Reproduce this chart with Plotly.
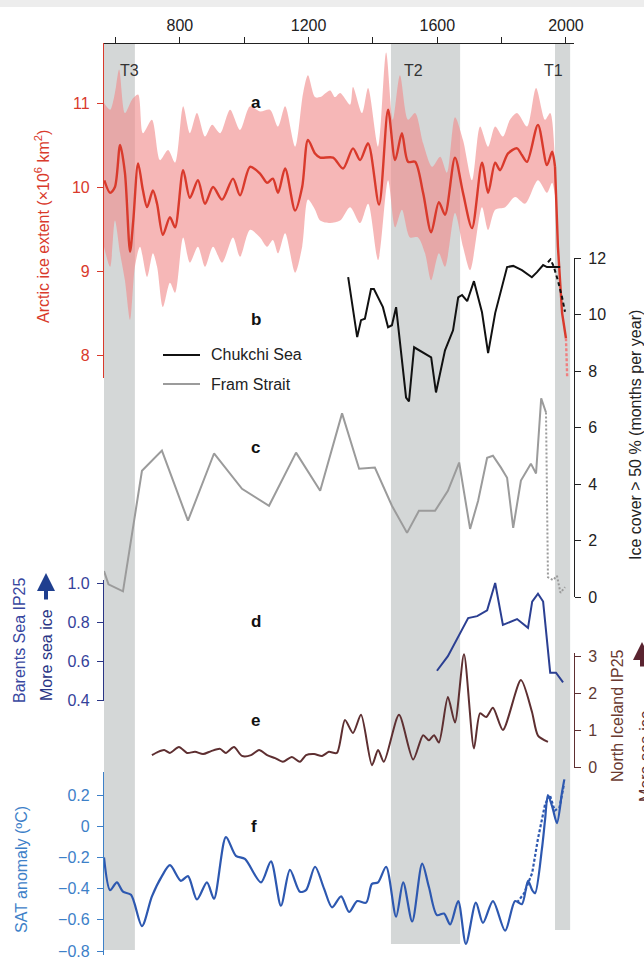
import plotly.graph_objects as go

# ---------------- data ----------------
# a: Arctic sea-ice extent reconstruction (x10^6 km^2)
a_years = [565, 583, 598, 614, 629, 645, 655, 670, 685, 698, 716, 729, 747, 769, 785, 810, 831, 856, 878, 903,
           931, 965, 987, 1018, 1049, 1071, 1089, 1105, 1127, 1158, 1180, 1198, 1220, 1236, 1276, 1307, 1338, 1360,
           1385, 1419, 1447, 1469, 1490, 1509, 1531, 1556, 1581, 1605, 1624, 1655, 1680, 1708, 1739, 1758, 1780,
           1795, 1820, 1848, 1863, 1879, 1913, 1941, 1957, 1966]
a_ice = [10.08, 9.93, 10.0, 10.5, 10.17, 9.23, 9.6, 10.28, 9.96, 9.76, 9.96, 9.8, 9.43, 9.64, 9.52, 10.2, 9.87,
         10.08, 9.8, 10.0, 9.85, 10.1, 9.9, 10.24, 10.16, 10.05, 10.1, 9.93, 10.22, 9.72, 10.0, 10.56, 10.4, 10.35,
         10.35, 10.22, 10.46, 10.32, 10.52, 9.79, 10.92, 10.32, 10.64, 10.3, 10.3, 9.93, 9.46, 9.82, 9.67, 10.35,
         9.93, 9.51, 10.29, 9.93, 10.29, 10.2, 10.4, 10.46, 10.38, 10.3, 10.74, 10.26, 10.42, 10.24]
a_drop_years = [1966, 1975, 1988, 2000]
a_drop_ice = [10.24, 9.29, 8.5, 8.2]
a_proj_years = [2000, 2004]
a_proj_ice = [8.2, 7.72]
a_up_years = [564, 583, 598, 611, 629, 651, 670, 685, 713, 738, 763, 785, 810, 831, 853, 878, 900, 925, 956, 987,
              1018, 1049, 1080, 1105, 1127, 1158, 1183, 1198, 1220, 1236, 1267, 1282, 1298, 1329, 1338, 1366, 1385,
              1416, 1441, 1462, 1484, 1509, 1531, 1556, 1584, 1609, 1630, 1655, 1680, 1708, 1733, 1758, 1780, 1804,
              1826, 1848, 1879, 1907, 1935, 1951, 1966]
a_up = [11.0, 10.92, 11.12, 11.4, 10.88, 11.04, 11.1, 10.64, 10.8, 10.32, 10.44, 10.29, 10.96, 10.64, 10.88, 10.6,
        10.74, 10.64, 10.92, 10.68, 10.96, 10.9, 10.92, 10.72, 10.96, 10.48, 11.12, 11.33, 11.07, 11.07, 11.15,
        11.07, 11.12, 10.98, 11.19, 10.88, 11.18, 10.48, 11.6, 10.8, 11.33, 10.8, 10.88, 10.52, 10.24, 10.36, 10.17,
        10.83, 10.56, 10.08, 10.72, 10.48, 10.72, 10.6, 10.8, 10.88, 10.72, 11.18, 10.8, 10.88, 10.32]
a_lo_years = [564, 583, 598, 614, 629, 645, 660, 676, 698, 716, 729, 747, 769, 785, 810, 831, 856, 878, 903, 931,
              965, 987, 1018, 1049, 1071, 1089, 1105, 1127, 1158, 1180, 1198, 1220, 1236, 1267, 1298, 1329, 1360,
              1385, 1416, 1447, 1469, 1490, 1515, 1540, 1562, 1581, 1605, 1624, 1655, 1680, 1702, 1739, 1758, 1780,
              1811, 1842, 1873, 1913, 1941, 1957, 1969]
a_lo = [9.29, 9.05, 9.6, 9.21, 8.89, 8.42, 9.05, 9.29, 8.93, 9.21, 9.05, 8.57, 8.86, 8.74, 9.4, 9.1, 9.29, 9.05,
        9.29, 9.1, 9.4, 9.17, 9.49, 9.4, 9.29, 9.37, 9.21, 9.45, 8.98, 9.29, 9.85, 9.73, 9.6, 9.57, 9.6, 9.76, 9.57,
        9.8, 9.13, 10.08, 9.52, 9.73, 9.4, 9.4, 9.21, 8.89, 9.21, 9.05, 9.69, 9.29, 9.01, 9.76, 9.49, 9.73, 9.76,
        9.88, 9.8, 10.08, 9.93, 10.05, 9.85]

# b: Chukchi Sea ice cover > 50 % (months per year)
chukchi_years = [1323, 1351, 1363, 1375, 1394, 1403, 1431, 1447, 1459, 1472, 1503, 1512, 1528, 1581, 1596, 1624,
                 1649, 1665, 1677, 1693, 1714, 1739, 1758, 1780, 1817, 1836, 1863, 1894, 1910, 1929, 1941, 1960, 1982]
chukchi_ice = [11.32, 9.2, 9.8, 9.85, 10.9, 10.9, 10.26, 9.55, 9.62, 10.26, 7.06, 6.92, 8.84, 8.48, 7.24, 8.73,
               9.44, 10.61, 10.69, 10.47, 11.18, 10.08, 8.63, 10.05, 11.68, 11.72, 11.57, 11.32, 11.5, 11.75, 11.68,
               11.68, 11.68]
chukchi_obs_years = [1944, 1952, 1962, 1975, 1988, 1997]
chukchi_obs = [11.85, 11.95, 11.7, 11.2, 10.6, 10.1]

# c: Fram Strait ice cover > 50 % (months per year)
fram_years = [564, 578, 623, 682, 744, 825, 906, 993, 1077, 1161, 1236, 1304, 1357, 1406, 1459, 1506, 1543, 1593,
              1633, 1668, 1702, 1727, 1755, 1773, 1798, 1817, 1836, 1860, 1891, 1907, 1923, 1938]
fram_ice = [0.92, 0.45, 0.2, 4.47, 5.18, 2.7, 5.08, 3.83, 3.23, 5.11, 3.76, 6.5, 4.54, 4.58, 3.23, 2.27, 3.05, 3.05,
            3.76, 4.76, 2.41, 3.41, 4.93, 5.0, 4.58, 4.22, 2.45, 4.12, 4.72, 4.37, 7.03, 6.53]
fram_obs_years = [1938, 1944, 1960, 1972, 1983, 1997]
fram_obs = [6.53, 0.7, 0.6, 0.75, 0.15, 0.35]

# d: Barents Sea IP25
barents_years = [1599, 1633, 1696, 1724, 1755, 1780, 1804, 1848, 1882, 1895, 1913, 1929, 1951, 1969, 1991]
barents_ip25 = [0.55, 0.625, 0.82, 0.83, 0.86, 1.0, 0.785, 0.815, 0.77, 0.905, 0.945, 0.905, 0.54, 0.54, 0.49]

# e: North Iceland IP25
iceland_years = [713, 732, 751, 769, 797, 822, 847, 872, 897, 925, 943, 968, 993, 1021, 1046, 1071, 1096, 1120,
                 1148, 1173, 1192, 1217, 1242, 1263, 1288, 1313, 1338, 1363, 1397, 1416, 1434, 1481, 1525, 1556,
                 1574, 1590, 1605, 1633, 1655, 1683, 1714, 1733, 1752, 1773, 1804, 1860, 1894, 1913, 1944]
iceland_ip25 = [0.32, 0.41, 0.46, 0.38, 0.54, 0.38, 0.41, 0.35, 0.43, 0.49, 0.38, 0.54, 0.3, 0.32, 0.46, 0.32,
                0.24, 0.14, 0.27, 0.14, 0.32, 0.35, 0.3, 0.41, 0.38, 1.27, 0.92, 1.41, 0.05, 0.46, 0.14, 1.41, 0.2,
                0.86, 0.72, 0.86, 0.66, 1.89, 1.2, 3.05, 0.5, 1.45, 1.35, 1.6, 1.0, 2.35, 1.5, 0.85, 0.68]

# f: Arctic SAT anomaly (degC)
sat_years = [564, 583, 604, 623, 648, 682, 713, 744, 769, 803, 825, 853, 884, 906, 943, 974, 1002, 1052, 1083,
             1114, 1142, 1173, 1192, 1220, 1248, 1273, 1301, 1326, 1351, 1379, 1397, 1416, 1441, 1472, 1494, 1522,
             1553, 1574, 1599, 1621, 1640, 1665, 1689, 1720, 1742, 1773, 1811, 1842, 1863, 1882, 1895, 1904, 1925,
             1935, 1944, 1958, 1972, 1988, 1995]
sat_anom = [-0.20, -0.41, -0.36, -0.42, -0.44, -0.64, -0.45, -0.32, -0.25, -0.35, -0.32, -0.47, -0.36, -0.465,
            -0.07, -0.19, -0.21, -0.36, -0.225, -0.51, -0.28, -0.42, -0.41, -0.26, -0.40, -0.52, -0.45, -0.55,
            -0.48, -0.49, -0.37, -0.36, -0.26, -0.58, -0.36, -0.61, -0.24, -0.39, -0.57, -0.56, -0.63, -0.48,
            -0.755, -0.49, -0.62, -0.48, -0.67, -0.48, -0.50, -0.35, -0.41, -0.43, -0.15, 0.04, 0.20, 0.12, 0.02,
            0.22, 0.30]
sat_obs_years = [1848, 1870, 1895, 1913, 1935, 1950, 1965, 1980, 1993]
sat_obs = [-0.49, -0.43, -0.30, -0.08, 0.14, 0.20, 0.10, 0.12, 0.26]

# periods (grey bands)
period_names = ["T3", "T2", "T1"]
period_start = [564, 1456, 1966]
period_end = [660, 1671, 2013]

year_ticks = [800, 1200, 1600, 2000]
year_minor = [600, 1000, 1400, 1800]

# ---------------- layout helpers ----------------
W, H = 644, 961
ML, MR, MT, MB = 104, 70, 43, 6
PW, PH = W - ML - MR, H - MT - MB


def py(p):
    return (H - MB - p) / PH


def px(p):
    return (p - ML) / PW


def axrange(p_top, p_bot, v1, p1, v2, p2):
    k = (v1 - v2) / (p2 - p1)
    return [v1 - (p_bot - p1) * k, v1 + (p1 - p_top) * k]


FONT = "Arial, Liberation Sans, Helvetica, sans-serif"
RED, PINK = "#d93a2c", "rgba(240,138,138,0.62)"
GREY_BAND = "#d4d7d7"
NAVY, BROWN = "#2b3f92", "#5e2f31"
SATC, SATAX = "#2d58b0", "#3d80c8"
BLACK, GREYL = "#111111", "#9b9b9b"

fig = go.Figure()

# a
fig.add_trace(go.Scatter(x=a_up_years + a_lo_years[::-1], y=a_up + a_lo[::-1], fill="toself",
                         fillcolor=PINK, line=dict(width=0, shape="spline", smoothing=0.8),
                         mode="lines", yaxis="y", hoverinfo="skip"))
fig.add_trace(go.Scatter(x=a_years, y=a_ice, mode="lines", line=dict(color=RED, width=2.4, shape="spline",
                         smoothing=0.8), yaxis="y"))
fig.add_trace(go.Scatter(x=a_drop_years, y=a_drop_ice, mode="lines", line=dict(color=RED, width=2.4),
                         yaxis="y"))
fig.add_trace(go.Scatter(x=a_proj_years, y=a_proj_ice, mode="lines",
                         line=dict(color="#f07f7f", width=2.4, dash="3px,2px"), yaxis="y"))

# b, c
fig.add_trace(go.Scatter(x=chukchi_years, y=chukchi_ice, mode="lines", name="Chukchi Sea",
                         line=dict(color=BLACK, width=2), yaxis="y2"))
fig.add_trace(go.Scatter(x=fram_years, y=fram_ice, mode="lines", name="Fram Strait",
                         line=dict(color=GREYL, width=2), yaxis="y2"))
fig.add_trace(go.Scatter(x=chukchi_obs_years, y=chukchi_obs, mode="lines",
                         line=dict(color=BLACK, width=2, dash="4px,3px"), yaxis="y2"))
fig.add_trace(go.Scatter(x=fram_obs_years, y=fram_obs, mode="lines",
                         line=dict(color=GREYL, width=2, dash="2px,2px"), yaxis="y2"))

# d
fig.add_trace(go.Scatter(x=barents_years, y=barents_ip25, mode="lines", line=dict(color=NAVY, width=2),
                         yaxis="y3"))
# e
fig.add_trace(go.Scatter(x=iceland_years, y=iceland_ip25, mode="lines",
                         line=dict(color=BROWN, width=2, shape="spline", smoothing=0.7), yaxis="y4"))
# f
fig.add_trace(go.Scatter(x=sat_obs_years, y=sat_obs, mode="lines",
                         line=dict(color=SATC, width=2.2, dash="3px,2px"), yaxis="y5"))
fig.add_trace(go.Scatter(x=sat_years, y=sat_anom, mode="lines",
                         line=dict(color=SATC, width=2.2, shape="spline", smoothing=0.8), yaxis="y5"))

# grey bands
band_bottom = [950, 944, 930]
shapes = []
for s, e, bb in zip(period_start, period_end, band_bottom):
    shapes.append(dict(type="rect", xref="x", yref="paper", x0=s, x1=e, y0=py(bb), y1=1,
                       fillcolor=GREY_BAND, line=dict(width=0), layer="below"))
# faint strip at the very top of the picture
shapes.append(dict(type="rect", xref="paper", yref="paper", x0=px(0), x1=px(644), y0=py(7), y1=py(0),
                   fillcolor="#ededed", line=dict(width=0), layer="below"))
# legend samples
leg_names = ["Chukchi Sea", "Fram Strait"]
leg_colors = [BLACK, GREYL]
leg_y = [355, 384]
for c, yy in zip(leg_colors, leg_y):
    shapes.append(dict(type="line", xref="paper", yref="paper", x0=px(163), x1=px(200), y0=py(yy), y1=py(yy),
                       line=dict(color=c, width=2)))

ann = []
for n, yy in zip(leg_names, leg_y):
    ann.append(dict(text=n, x=px(209), y=py(yy), xref="paper", yref="paper", showarrow=False, xanchor="left",
                    yanchor="middle", font=dict(size=16, color="#222")))
label_px = [118, 425, 565]
for n, lp in zip(period_names, label_px):
    ann.append(dict(text=n, x=px(lp), y=py(60), xref="paper", yref="paper", showarrow=False,
                    font=dict(size=16, color="#333")))
for t, yy in zip("abcdef", [91, 308, 447, 621, 732, 838]):
    ann.append(dict(text="<b>%s</b>" % t, x=px(249), y=py(yy), xref="paper", yref="paper", showarrow=False,
                    font=dict(size=17, color="#111")))


def vtitle(text, xp, yp, color, size=16):
    return dict(text=text, x=px(xp), y=py(yp), xref="paper", yref="paper", showarrow=False, textangle=-90,
                xanchor="center", yanchor="middle", font=dict(size=size, color=color))


ann.append(vtitle("Arctic ice extent (×10<sup>6</sup> km<sup>2</sup>)", 42, 227, RED))
ann.append(vtitle("Ice cover > 50 % (months per year)", 635, 435, "#222"))
ann.append(vtitle("Barents Sea IP25", 19, 640, "#3847a0"))
ann.append(vtitle("More sea ice", 46, 655, "#2a3585"))
ann.append(vtitle("North Iceland IP25", 617, 716, "#6a3a30"))
ann.append(vtitle("More sea ice", 645, 756, BROWN))
ann.append(vtitle("SAT anomaly (ºC)", 21, 870, SATAX))
# arrows ("more sea ice" direction)
ann.append(dict(text="", x=px(46), y=py(573), xref="paper", yref="paper", showarrow=True, ax=0, ay=28,
                arrowhead=2, arrowsize=0.9, arrowwidth=4, arrowcolor="#1f3f8f", standoff=0))
ann.append(dict(text="", x=px(642), y=py(642), xref="paper", yref="paper", showarrow=True, ax=0, ay=26,
                arrowhead=2, arrowsize=0.9, arrowwidth=4, arrowcolor="#5a2430", standoff=0))


def yax(domain_px, rng, side, color, tickvals, fmt=None, linecolor=None):
    d = dict(domain=[py(domain_px[1]), py(domain_px[0])], range=rng, side=side, anchor="x",
             showline=True, linecolor=linecolor or color, linewidth=1.2, ticks="outside", ticklen=6,
             tickwidth=1.2, tickcolor=linecolor or color, tickvals=tickvals, showgrid=False, zeroline=False,
             tickfont=dict(size=16, color=color), ticklabelstandoff=4, fixedrange=True)
    if fmt:
        d["tickformat"] = fmt
    return d


fig.update_layout(
    width=W, height=H, margin=dict(l=ML, r=MR, t=MT, b=MB, autoexpand=False),
    paper_bgcolor="white", plot_bgcolor="rgba(0,0,0,0)", showlegend=False,
    font=dict(family=FONT, size=16, color="#222"),
    xaxis=dict(range=[564, 2025], side="top", anchor="free", position=1, showline=True, linecolor="#222",
               linewidth=1.2, ticks="outside", ticklen=6, tickwidth=1.2, tickcolor="#222", tickvals=year_ticks,
               minor=dict(tickvals=year_minor, ticks="outside", ticklen=6, tickwidth=1.2, tickcolor="#222",
                          showgrid=False),
               showgrid=False, zeroline=False, tickfont=dict(size=16, color="#222"), fixedrange=True),
    yaxis=yax([43, 378], axrange(43, 378, 11, 103, 10, 187), "left", RED, [8, 9, 10, 11]),
    yaxis2=yax([258, 597], axrange(258, 597, 12, 258, 0, 597), "right", "#222", [0, 2, 4, 6, 8, 10, 12]),
    yaxis3=yax([580, 701], axrange(580, 701, 1.0, 583, 0.4, 700), "left", "#34419a", [0.4, 0.6, 0.8, 1.0],
               fmt=".1f", linecolor="#2a3585"),
    yaxis4=yax([653, 768], axrange(653, 768, 3, 656, 0, 767), "right", "#5e3a34", [0, 1, 2, 3],
               linecolor=BROWN),
    yaxis5=yax([772, 955], axrange(772, 955, 0.2, 795, -0.8, 951), "left", SATAX,
               [-0.8, -0.6, -0.4, -0.2, 0, 0.2]),
    shapes=shapes, annotations=ann,
)

fig.write_html("out.html", config={"displayModeBar": False},
               post_script="document.body.style.margin='0px';")
